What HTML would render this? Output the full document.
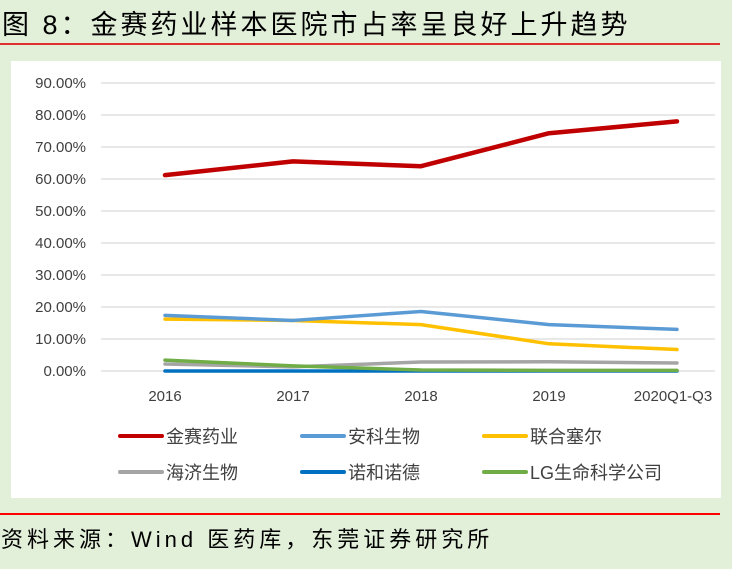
<!DOCTYPE html>
<html><head><meta charset="utf-8"><style>
body{margin:0;width:732px;height:569px;background:#e2efd9;font-family:"Liberation Sans","Noto Sans CJK SC",sans-serif;position:relative;overflow:hidden}
.title{position:absolute;left:2px;top:3px;font-size:27px;color:#000;letter-spacing:3px;white-space:nowrap}
.rl{position:absolute;left:0;width:720px;height:2px;background:#e03030}
.src{position:absolute;left:1px;top:522px;font-size:22px;letter-spacing:4px;white-space:nowrap}
svg{position:absolute;left:0;top:0}
</style></head><body>
<div class="title">图 8：金赛药业样本医院市占率呈良好上升趋势</div>
<div class="rl" style="top:43px"></div>
<svg width="732" height="569">
<rect x="11" y="61" width="710" height="437" fill="#fff"/>
<g id="grid"></g><g id="lines"></g><g id="legend"></g>
</svg>
<div class="rl" style="top:513px;background:#f00"></div>
<div class="src">资料来源：Wind 医药库，东莞证券研究所</div>
<script>
const categories=["2016","2017","2018","2019","2020Q1-Q3"];
const yTicks=[0,10,20,30,40,50,60,70,80,90];
const seriesNames=["金赛药业","安科生物","联合塞尔","海济生物","诺和诺德","LG生命科学公司"];
const jinsai=[61.2,65.5,64.0,74.3,78.0];
const anke=[17.4,15.8,18.6,14.5,13.0];
const lianhe=[16.2,15.8,14.5,8.5,6.7];
const haiji=[2.2,1.3,2.8,2.9,2.5];
const nuohe=[0,0,0,0,0];
const lg=[3.4,1.6,0.3,0.2,0.2];
const colors=["#c00000","#5b9bd5","#ffc000","#a5a5a5","#0070c0","#70ad47"];
const series=[jinsai,anke,lianhe,haiji,nuohe,lg];
const ns="http://www.w3.org/2000/svg";
const y=v=>371-v*3.2, x=i=>165+i*128;
function mk(t,a,p){const e=document.createElementNS(ns,t);for(const k in a)e.setAttribute(k,a[k]);p.appendChild(e);return e;}
const g=document.getElementById('grid');
yTicks.forEach(t=>{
 const l=mk('line',{x1:101,x2:715,y1:y(t),y2:y(t),stroke:'#d9d9d9','stroke-width':1.3},g);
 
 
 const tx=mk('text',{x:86,y:y(t)+5,'text-anchor':'end','font-size':15,fill:'#404040'},g);
 tx.textContent=t.toFixed(2)+'%';
 
 
});
categories.forEach((c,i)=>{
 const tx=mk('text',{x:i==4?x(i)-4:x(i),y:401,'text-anchor':'middle','font-size':15,fill:'#404040'},g);
 tx.textContent=c;
 
 
});
const L=document.getElementById('lines');
[4,3,5,2,1,0].forEach(s=>{
 const p=mk('polyline',{points:series[s].map((v,i)=>x(i)+','+y(v)).join(' '),fill:'none',stroke:colors[s],'stroke-width':s==0?4.5:3.5,'stroke-linejoin':'round','stroke-linecap':'round'},L);
 
 
});
const lg2=document.getElementById('legend');
seriesNames.forEach((n,k)=>{
 const cx=120+(k%3)*182, cy=436+Math.floor(k/3)*36;
 const ln=mk('line',{x1:cx,x2:cx+42,y1:cy,y2:cy,stroke:colors[k],'stroke-width':4,'stroke-linecap':'round'},lg2);
 
 
 const t=mk('text',{x:cx+46,y:cy+7,'font-size':18,fill:'#404040'},lg2);
 t.textContent=n;
 
 
});
</script>
</body></html>
